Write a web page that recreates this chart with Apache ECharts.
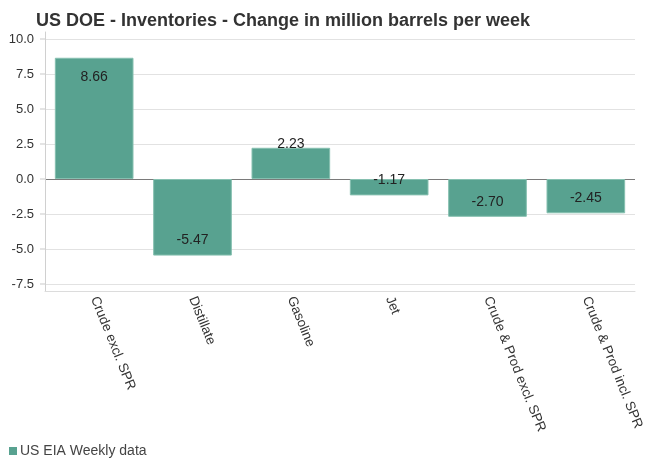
<!DOCTYPE html>
<html>
<head>
<meta charset="utf-8">
<script src="https://cdn.jsdelivr.net/npm/echarts@6/dist/echarts.min.js"></script>
<style>
  html, body { margin: 0; padding: 0; background: #fff; }
  #chart { width: 650px; height: 475px; }
</style>
</head>
<body>
<div id="chart"></div>
<script>
  // categories and weekly changes (million barrels)
  const categories = ['Crude excl. SPR', 'Distillate', 'Gasoline', 'Jet', 'Crude & Prod excl. SPR', 'Crude & Prod incl. SPR']
  const changes = [8.66, -5.47, 2.23, -1.17, -2.70, -2.45]
  const yTickLabels = [-7.5, -5.0, -2.5, 0.0, 2.5, 5.0, 7.5, 10.0]

  const yMin = -8
  const yMax = 10.5
  const step = 0.5 // fine step so the axis can run past the labelled ticks

  const isLabelled = (v) => yTickLabels.some((t) => Math.abs(t - v) < 1e-6)

  // grid line colour per fine tick: only labelled values get a line, zero is darker
  const splitColors = []
  for (let v = yMin; v <= yMax + 1e-6; v += step) {
    const val = Math.round(v * 10) / 10
    if (!isLabelled(val)) splitColors.push('rgba(0,0,0,0)')
    else splitColors.push(val === 0 ? '#7a7a7a' : '#e2e2e2')
  }

  const barData = changes.map((v) => ({
    value: v,
    label: {
      position: v >= 0 ? (v > 4 ? 'insideTop' : 'top') : 'insideBottom',
      distance: v >= 0 ? (v > 4 ? 12 : -3) : 8,
    },
  }))

  const chart = echarts.init(document.getElementById('chart'))
  chart.setOption({
    animation: false,
    textStyle: { fontFamily: 'Liberation Sans, Arial, sans-serif' },
    title: {
      text: 'US DOE - Inventories - Change in million barrels per week',
      left: 31,
      top: 7,
      textStyle: { fontSize: 18, fontWeight: 'bold', color: '#333' },
    },
    legend: {
      left: 4,
      bottom: 12,
      icon: 'rect',
      itemWidth: 8,
      itemHeight: 8,
      itemGap: 6,
      data: ['US EIA Weekly data'],
      itemStyle: { borderWidth: 0 },
      textStyle: { fontSize: 14, color: '#444', padding: [0, 0, 0, -2] },
    },
    grid: { left: 45, right: 15, top: 32, bottom: 184, containLabel: false },
    xAxis: {
      type: 'category',
      data: categories,
      axisLine: { onZero: false, lineStyle: { color: '#dcdcdc' } },
      axisTick: { show: false },
      axisLabel: {
        rotate: -68,
        interval: 0,
        margin: 6,
        fontSize: 13.5,
        color: '#333',
      },
    },
    yAxis: {
      type: 'value',
      min: yMin,
      max: yMax,
      interval: step,
      axisLine: { show: true, lineStyle: { color: '#d0d0d0' } },
      axisTick: { show: false },
      axisLabel: {
        margin: 0,
        formatter: (v) => (isLabelled(v) ? '{v|' + v.toFixed(1) + '}{t|}' : ''),
        rich: {
          v: { fontSize: 13, color: '#333', padding: [0, 6, 0, 0] },
          t: { width: 5, height: 1, backgroundColor: '#c8c8c8' },
        },
      },
      splitLine: { show: true, lineStyle: { color: splitColors, width: 1 } },
    },
    series: [
      {
        name: 'US EIA Weekly data',
        type: 'bar',
        data: barData,
        barCategoryGap: '20%',
        itemStyle: { color: '#58a290', borderColor: '#86c0b0', borderWidth: 1 },
        label: {
          show: true,
          fontSize: 14,
          color: '#222',
          formatter: (p) => p.value.toFixed(2),
        },
      },
    ],
  })
</script>
</body>
</html>
